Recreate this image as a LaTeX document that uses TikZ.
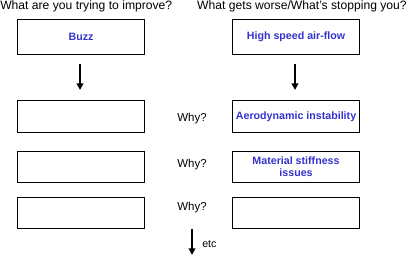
\documentclass[tikz,border=0pt]{standalone}
\usepackage{fontspec}
\setmainfont{Liberation Sans}
\usetikzlibrary{arrows.meta}
\definecolor{labelblue}{RGB}{51,51,204}
\begin{document}
\begin{tikzpicture}[x=0.75pt,y=-0.75pt,
  cell/.style={draw=black,line width=0.8pt,minimum width=127*0.75pt,minimum height=31*0.75pt,
    inner sep=1pt,anchor=north west,align=center,text=labelblue,font=\fontsize{8pt}{9.2pt}\selectfont\bfseries},
  head/.style={font=\fontsize{9.1pt}{10pt}\selectfont,inner sep=0pt},
  why/.style={font=\fontsize{8.6pt}{10pt}\selectfont,inner sep=0pt},
  down/.style={line width=1.4pt,-{Triangle[length=5pt,width=5pt]}}]
\useasboundingbox (0,0) rectangle (407,256);
% column headings
\node[head,anchor=west] (hl) at (0,6) {What are you trying to improve?};
\node[head,anchor=east] (hr) at (407,6) {What gets worse/What's stopping you?};
% left column
\node[cell,minimum height=35*0.75pt] (l1) at (17,19) {Buzz};
\node[cell,minimum height=32*0.75pt] (l2) at (17,100) {};
\node[cell] (l3) at (17,151) {};
\node[cell] (l4) at (17,197) {};
% right column
\node[cell,minimum height=35*0.75pt] (r1) at (232,19) {High speed air-flow};
\node[cell,minimum height=32*0.75pt] (r2) at (232,100) {Aerodynamic instability};
\node[cell] (r3) at (232,151) {Material stiffness\\issues};
\node[cell] (r4) at (232,197) {};
% questions between the columns
\node[why] (w2) at (192,119) {Why?};
\node[why] (w3) at (192,165) {Why?};
\node[why] (w4) at (192,208) {Why?};
% arrows
\coordinate (sl) at (80,64);
\coordinate (al) at (80,90);
\coordinate (sr) at (295,64);
\coordinate (ar) at (295,90);
\coordinate (se) at (192,229);
\coordinate (ae) at (192,255);
\draw[down] (sl) -- (al);
\draw[down] (sr) -- (ar);
\draw[down] (se) -- (ae);
\node[font=\fontsize{8pt}{9pt}\selectfont,inner sep=0pt,anchor=west] (etc) at (202,244) {etc};
\end{tikzpicture}
\end{document}
